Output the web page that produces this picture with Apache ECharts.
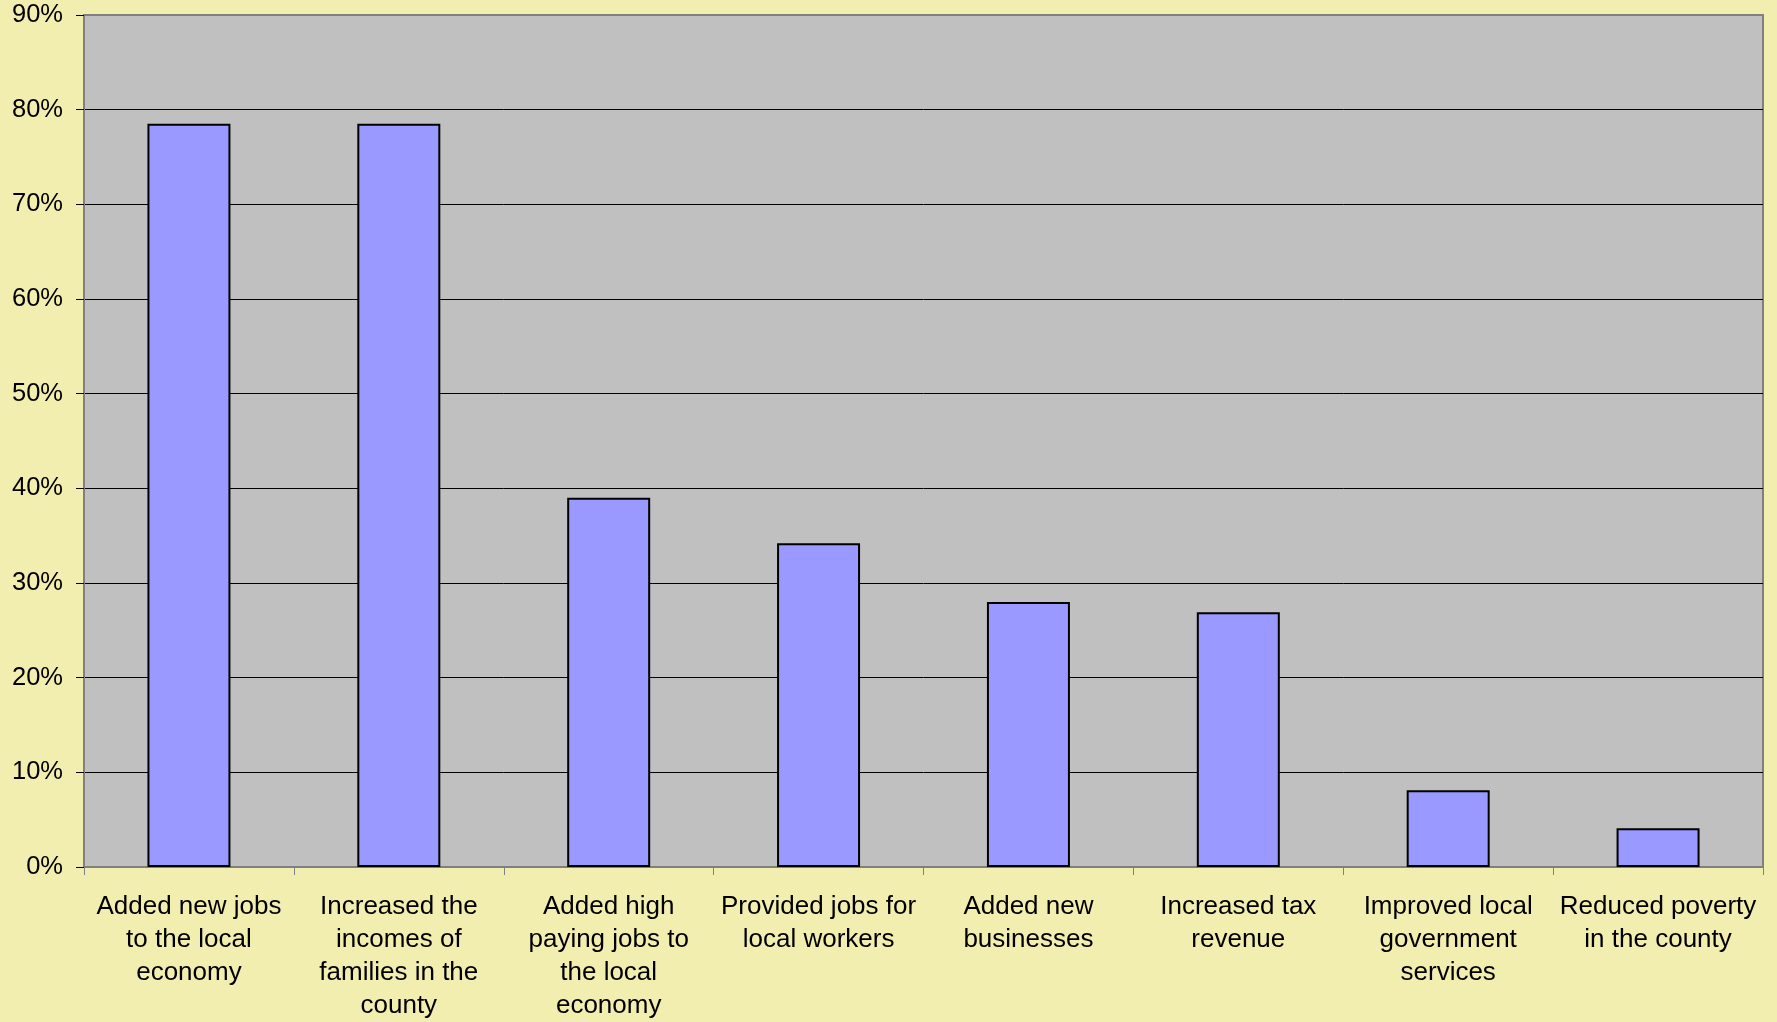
<!DOCTYPE html>
<html>
<head>
<meta charset="utf-8">
<style>
  html, body { margin: 0; padding: 0; background: #F2EEB0; }
  #chart { width: 1777px; height: 1022px; }
</style>
<script src="https://cdn.jsdelivr.net/npm/echarts@6/dist/echarts.min.js"></script>
</head>
<body>
<div id="chart"></div>
<script>
// Reported effects, share of respondents (%)
const categories = [
  'Added new jobs\nto the local\neconomy',
  'Increased the\nincomes of\nfamilies in the\ncounty',
  'Added high\npaying jobs to\nthe local\neconomy',
  'Provided jobs for\nlocal workers',
  'Added new\nbusinesses',
  'Increased tax\nrevenue',
  'Improved local\ngovernment\nservices',
  'Reduced poverty\nin the county'
];
const shares = [78.5, 78.5, 39.0, 34.2, 28.0, 26.9, 8.1, 4.1];
const yMin = 0;
const yMax = 90;
const yStep = 10;

const font = 'Liberation Sans, Arial, sans-serif';
// gridline colours: black inside, grey where they meet the frame
const gridColors = [];
for (let v = yMin; v <= yMax; v += yStep) {
  gridColors.push(v === yMin || v === yMax ? '#808080' : '#000000');
}

const chart = echarts.init(document.getElementById('chart'));
chart.setOption({
  backgroundColor: '#F2EEB0',
  animation: false,
  grid: {
    left: 84, right: 14, top: 15, bottom: 152,
    show: true,
    backgroundColor: '#C0C0C0',
    borderColor: '#808080',
    borderWidth: 2
  },
  xAxis: {
    type: 'category',
    data: categories,
    axisLine: { lineStyle: { color: '#808080', width: 2 } },
    axisTick: { show: true, length: 8, lineStyle: { color: '#808080', width: 1 } },
    axisLabel: {
      interval: 0,
      margin: 23,
      color: '#000',
      fontFamily: font,
      fontSize: 26,
      lineHeight: 33,
      align: 'center'
    }
  },
  yAxis: {
    type: 'value',
    min: yMin,
    max: yMax,
    interval: yStep,
    axisLine: { show: true, lineStyle: { color: '#808080', width: 2 } },
    axisTick: { show: true, length: 8, lineStyle: { color: '#000', width: 1 } },
    axisLabel: {
      formatter: '{value}%',
      margin: 21,
      color: '#000',
      fontFamily: font,
      fontSize: 25.5
    },
    splitLine: { show: true, lineStyle: { color: gridColors, width: 1 } }
  },
  series: [{
    type: 'bar',
    data: shares,
    barWidth: 83,
    itemStyle: { color: '#9999FF', borderColor: '#000', borderWidth: 2 }
  }]
});
</script>
</body>
</html>
